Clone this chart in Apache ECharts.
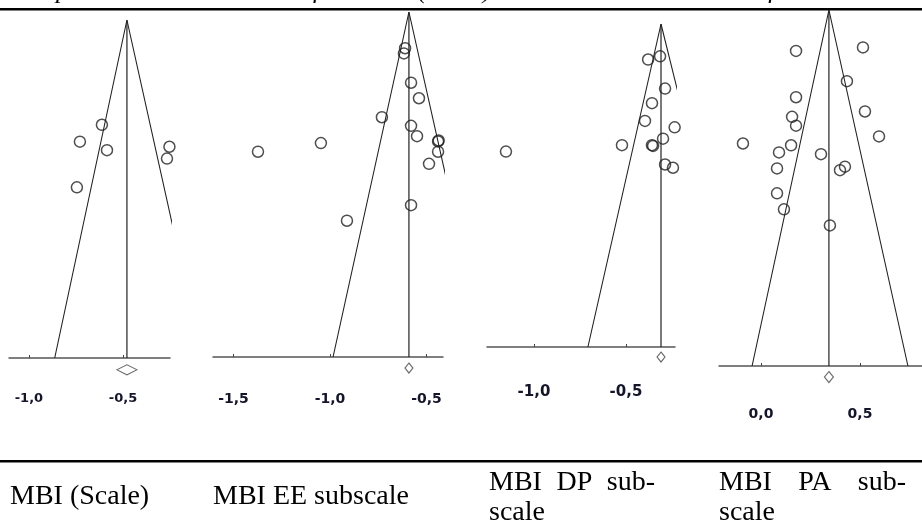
<!DOCTYPE html>
<html><head><meta charset="utf-8">
<script src="https://cdn.jsdelivr.net/npm/echarts@6/dist/echarts.min.js"></script>
<style>html,body{margin:0;padding:0;background:#fff}#c{width:922px;height:524px}</style>
</head><body><div id="c"></div>
<script>
// ---- data ----
const panelNames = ['MBI (Scale)', 'MBI EE subscale', 'MBI DP sub-|scale', 'MBI PA sub-|scale'];
const titleText = 'Graph 4. The Funnel Plots of the MBI (Scale) and the three sub-scales of the scale';

// Panel 1: MBI (Scale) – effect size and standard error
const effectScale = [-0.612, -0.729, -0.585, -0.745, -0.253, -0.266];
const seScale     = [0.062, 0.072, 0.077, 0.099, 0.075, 0.082];
const meanScale = -0.479;
const funnelScale = [-0.863, -0.08];
const ticksScale = [-1.0, -0.5];

// Panel 2: MBI EE subscale
const effectEE = [-0.611, -0.617, -0.580, -0.539, -0.731, -0.580, -0.549, -0.440, -0.437, -0.440, -0.487, -1.047, -1.373, -0.580, -0.912];
const seEE     = [0.021, 0.024, 0.041, 0.050, 0.061, 0.066, 0.072, 0.075, 0.0745, 0.081, 0.088, 0.076, 0.081, 0.112, 0.121];
const meanEE = -0.591;
const funnelEE = [-0.984, -0.19];
const ticksEE = [-1.5, -1.0, -0.5];

// Panel 3: MBI DP subscale
const effectDP = [-0.380, -0.315, -0.288, -0.359, -0.397, -0.299, -0.359, -0.353, -0.522, -1.152, -0.288, -0.245, -0.236];
const seDP     = [0.022, 0.020, 0.040, 0.049, 0.060, 0.071, 0.075, 0.0755, 0.075, 0.079, 0.087, 0.089, 0.064];
const meanDP = -0.310;
const funnelDP = [-0.707, 0.125];
const ticksDP = [-1.0, -0.5];

// Panel 4: MBI PA subscale
const effectPA = [0.177, 0.515, 0.434, 0.177, 0.525, 0.157, 0.177, 0.596, -0.091, 0.152, 0.091, 0.303, 0.081, 0.399, 0.424, 0.081, 0.116, 0.348];
const sePA     = [0.023, 0.021, 0.040, 0.049, 0.057, 0.060, 0.065, 0.071, 0.075, 0.076, 0.080, 0.081, 0.089, 0.090, 0.088, 0.103, 0.112, 0.121];
const meanPA = 0.343;
const funnelPA = [-0.045, 0.742];
const ticksPA = [0.0, 0.5];

const seMax = 0.2;

// ---- layout / style per panel ----
const panels = [
  {eff: effectScale, se: seScale, mean: meanScale, funnel: funnelScale, ticks: ticksScale,
   grid: {left: 9, top: 20, width: 161, height: 338}, xr: [-1.106, -0.25], font: 13, margin: 34, dia: [20, 10], diaSE: 0.207},
  {eff: effectEE, se: seEE, mean: meanEE, funnel: funnelEE, ticks: ticksEE,
   grid: {left: 213, top: 12, width: 230, height: 345}, xr: [-1.606, -0.4145], font: 14, margin: 35, dia: [8, 10], diaSE: 0.2064},
  {eff: effectDP, se: seDP, mean: meanDP, funnel: funnelDP, ticks: ticksDP,
   grid: {left: 487, top: 24, width: 188, height: 323}, xr: [-1.255, -0.234], font: 15, margin: 38, dia: [8, 10], diaSE: 0.2062},
  {eff: effectPA, se: sePA, mean: meanPA, funnel: funnelPA, ticks: ticksPA,
   grid: {left: 719, top: 10, width: 203, height: 356}, xr: [-0.212, 0.813], font: 14, margin: 41, dia: [9, 11], diaSE: 0.2062}
];

const grid = [], xAxis = [], yAxis = [], series = [];
const ink = '#222';
panels.forEach((p, i) => {
  grid.push(Object.assign({containLabel: false}, p.grid));
  xAxis.push({
    type: 'value', gridIndex: i, min: p.xr[0], max: p.xr[1], position: 'bottom',
    axisLine: {show: true, onZero: false, lineStyle: {color: '#555', width: 1.5}},
    axisTick: {show: true, inside: true, length: 3, customValues: p.ticks, lineStyle: {color: '#444', width: 1}},
    axisLabel: {show: true, customValues: p.ticks, margin: p.margin, color: '#15152a',
      fontFamily: 'DejaVu Sans', fontWeight: 'bold', fontSize: p.font,
      formatter: v => v.toFixed(1).replace('.', ',')},
    splitLine: {show: false}
  });
  yAxis.push({type: 'value', gridIndex: i, min: 0, max: seMax, inverse: true, show: false});
  series.push({
    type: 'line', xAxisIndex: i, yAxisIndex: i, symbol: 'none', silent: true,
    data: [[p.funnel[0], seMax], [p.mean, 0], [p.funnel[1], seMax]],
    lineStyle: {color: ink, width: 1.1}, clip: true, z: 2
  });
  series.push({
    type: 'line', xAxisIndex: i, yAxisIndex: i, symbol: 'none', silent: true,
    data: [[p.mean, 0], [p.mean, seMax]],
    lineStyle: {color: ink, width: 1.2}, clip: true, z: 2
  });
  series.push({
    type: 'scatter', xAxisIndex: i, yAxisIndex: i, symbol: 'circle', symbolSize: 11,
    data: p.eff.map((e, k) => [e, p.se[k]]),
    itemStyle: {color: 'rgba(255,255,255,0)', borderColor: '#222', borderWidth: 1.5}, clip: true, z: 3
  });
  series.push({
    type: 'scatter', xAxisIndex: i, yAxisIndex: i, symbol: 'diamond', symbolSize: p.dia,
    data: [[p.mean, p.diaSE]],
    itemStyle: {color: '#fff', borderColor: '#444', borderWidth: 1.1}, clip: false, z: 3
  });
});

// table labels at the bottom (first lines of wrapped cells are justified)
const serif = '"Liberation Serif", "Times New Roman", serif';
const cellFont = '28px ' + serif;
const cellX = [10, 213, 489, 719];
const justifyEnd = [null, null, 655, 906];
const ctx = document.createElement('canvas').getContext('2d');
ctx.font = cellFont;
const tw = t => ctx.measureText(t).width;

const graphic = [
  {type: 'text', x: 14, y: -22, style: {text: titleText, font: 'italic 26px ' + serif, fill: '#000'}},
  {type: 'rect', shape: {x: 0, y: 8, width: 922, height: 2.5}, style: {fill: '#000'}},
  {type: 'rect', shape: {x: 0, y: 460, width: 922, height: 2.5}, style: {fill: '#000'}}
];
panelNames.forEach((n, i) => {
  const lines = n.split('|');
  const x0 = cellX[i];
  if (lines.length === 1) {
    graphic.push({type: 'text', x: x0, y: 497,
      style: {text: lines[0], font: cellFont, fill: '#000', verticalAlign: 'middle'}});
  } else {
    const words = lines[0].split(' ');
    const total = words.reduce((a, w) => a + tw(w), 0);
    const gap = Math.max(tw(' '), (justifyEnd[i] - x0 - total) / (words.length - 1));
    let cx = x0;
    words.forEach(w => {
      graphic.push({type: 'text', x: cx, y: 483,
        style: {text: w, font: cellFont, fill: '#000', verticalAlign: 'middle'}});
      cx += tw(w) + gap;
    });
    graphic.push({type: 'text', x: x0, y: 513,
      style: {text: lines[1], font: cellFont, fill: '#000', verticalAlign: 'middle'}});
  }
});

const chart = echarts.init(document.getElementById('c'), null, {renderer: 'canvas'});
chart.setOption({animation: false, backgroundColor: '#fff', grid, xAxis, yAxis, series, graphic});
</script></body></html>
